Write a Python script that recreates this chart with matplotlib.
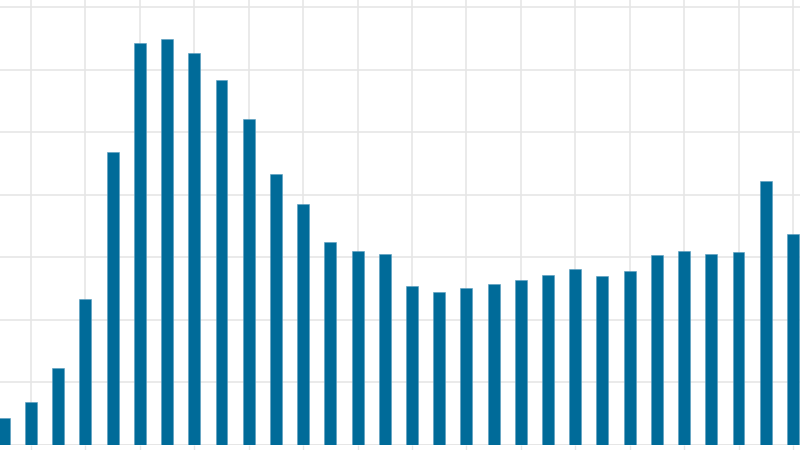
import numpy as np
import matplotlib
matplotlib.use('Agg')
import matplotlib.pyplot as plt

# ── data (gridline step = 1) ──
categories = list(range(1, 31))
values = [0.43, 0.68, 1.23, 2.33, 4.68, 6.42, 6.49, 6.27, 5.83, 5.21,
          4.33, 3.86, 3.24, 3.10, 3.06, 2.54, 2.44, 2.51, 2.57, 2.64,
          2.72, 2.82, 2.70, 2.78, 3.04, 3.10, 3.05, 3.08, 4.22, 3.37]

BAR_COLOR = '#006b99'
GRID_COLOR = '#e6e6e6'

fig = plt.figure(figsize=(8, 4.5), dpi=100)
ax = fig.add_axes([0, 5 / 450, 1, 445 / 450])

x = np.arange(len(categories))
ax.bar(x, values, width=0.44, color=BAR_COLOR,
       edgecolor='#5a9ec0', linewidth=0.4, zorder=3)

ax.set_xlim(-0.14, 29.26)
ax.set_ylim(0, 7.115)

ax.set_yticks(np.arange(0, 8, 1))
ax.set_xticks(x[1::2])
ax.grid(True, color=GRID_COLOR, lw=1.2, zorder=0)
ax.set_axisbelow(True)

for s in ax.spines.values():
    s.set_visible(False)
ax.axhline(0, color=GRID_COLOR, lw=1.2, zorder=1)

ax.tick_params(axis='x', length=4, width=1, color=GRID_COLOR,
               labelbottom=False, direction='out')
ax.tick_params(axis='y', length=0, labelleft=False)

fig.savefig('out.png', dpi=100)
